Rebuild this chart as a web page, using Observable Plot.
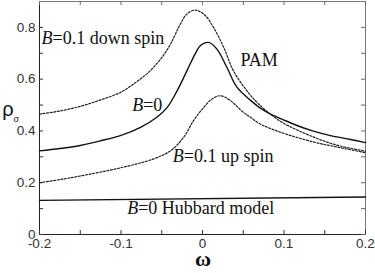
<!DOCTYPE html>
<html>
<head>
<meta charset="utf-8">
<script src="https://cdn.jsdelivr.net/npm/d3@7"></script>
<script src="https://cdn.jsdelivr.net/npm/@observablehq/plot@0.6"></script>
<style>
  html, body { margin: 0; padding: 0; background: #fff; }
  #chart svg { display: block; }
</style>
</head>
<body>
<div id="chart"></div>
<script>
// ---- data ----
const downOmega = [-0.2, -0.175, -0.15, -0.125, -0.1, -0.08, -0.065, -0.05, -0.039, -0.027, -0.019, -0.009, 0.003, 0.0135, 0.026, 0.038, 0.0545, 0.069, 0.0957, 0.1366, 0.165, 0.2];
const downRho   = [0.465, 0.477, 0.495, 0.52, 0.55, 0.592, 0.63, 0.683, 0.737, 0.814, 0.852, 0.867, 0.847, 0.80, 0.723, 0.632, 0.555, 0.504, 0.437, 0.376, 0.345, 0.322];

const pamOmega = [-0.2, -0.175, -0.15, -0.125, -0.1, -0.076, -0.056, -0.043, -0.031, -0.019, -0.009, -0.0025, 0.0074, 0.0177, 0.030, 0.042, 0.059, 0.071, 0.083, 0.1, 0.116, 0.135, 0.157, 0.18, 0.2];
const pamRho   = [0.323, 0.332, 0.344, 0.362, 0.383, 0.414, 0.453, 0.492, 0.556, 0.633, 0.698, 0.73, 0.742, 0.716, 0.645, 0.57, 0.518, 0.488, 0.466, 0.442, 0.421, 0.40, 0.382, 0.368, 0.355];

const upOmega = [-0.2, -0.175, -0.15, -0.1, -0.06, -0.039, -0.023, -0.011, 0.0012, 0.0115, 0.0217, 0.034, 0.0504, 0.0589, 0.069, 0.0957, 0.1366, 0.165, 0.2];
const upRho   = [0.200, 0.212, 0.226, 0.258, 0.292, 0.324, 0.376, 0.44, 0.49, 0.523, 0.536, 0.518, 0.471, 0.453, 0.43, 0.395, 0.357, 0.338, 0.316];

const hubOmega = [-0.2, 0.2];
const hubRho   = [0.132, 0.145];

const xTicks = [-0.2, -0.1, 0, 0.1, 0.2];
const xTickLabels = ["-0.2", "-0.1", "0", "0.1", "0.2"];
const xMinor = [-0.2, -0.15, -0.1, -0.05, 0, 0.05, 0.1, 0.15, 0.2];
const yTicks = [0, 0.2, 0.4, 0.6, 0.8];
const yTickLabels = ["0", "0.2", "0.4", "0.6", "0.8"];
const yMinor = [0, 0.1, 0.2, 0.3, 0.4, 0.5, 0.6, 0.7, 0.8];

const labelTexts = ["B=0.1 down spin", "PAM", "B=0", "B=0.1 up spin", "B=0 Hubbard model"];
const labelOmega = [-0.1975, 0.0466, -0.0863, -0.0364, -0.0924];
const labelRho   = [0.759, 0.675, 0.501, 0.302, 0.102];

// ---- build tables ----
const zip = (xs, ys) => xs.map((x, i) => ({x, y: ys[i]}));
const down = zip(downOmega, downRho);
const pam = zip(pamOmega, pamRho);
const up = zip(upOmega, upRho);
const hub = zip(hubOmega, hubRho);
const labels = labelTexts.map((t, i) => ({t, x: labelOmega[i], y: labelRho[i]}));

const serif = "'Liberation Serif', 'Times New Roman', serif";
const sans = "'Liberation Sans', Arial, sans-serif";

const chart = Plot.plot({
  width: 375,
  height: 273,
  marginLeft: 39,
  marginRight: 10,
  marginTop: 1,
  marginBottom: 39,
  style: {fontFamily: sans, fontSize: "13.5px", color: "#333", background: "#fff"},
  x: {domain: [-0.2, 0.2]},
  y: {domain: [0, 0.9]},
  marks: [
    Plot.frame({stroke: "#777", strokeWidth: 1}),
    Plot.ruleX([-0.2], {stroke: "#222"}),
    Plot.ruleY([0], {stroke: "#222"}),
    // inward ticks
    Plot.ruleX(xMinor, {x: d => d, insetTop: 229, stroke: "#333"}),
    Plot.ruleX(xMinor, {x: d => d, insetBottom: 229, stroke: "#666"}),
    Plot.ruleY(yMinor, {y: d => d, insetRight: 322, stroke: "#333"}),
    Plot.ruleY(yMinor, {y: d => d, insetLeft: 322, stroke: "#666"}),
    Plot.axisX({ticks: xTicks, tickSize: 0, tickPadding: 4, tickFormat: (d, i) => xTickLabels[i], label: null, fill: "#333"}),
    Plot.axisY({ticks: yTicks, tickSize: 0, tickPadding: 4, tickFormat: (d, i) => yTickLabels[i], label: null, fill: "#333"}),
    // curves
    Plot.line(hub, {x: "x", y: "y", stroke: "#111", strokeWidth: 1.4}),
    Plot.line(pam, {x: "x", y: "y", stroke: "#111", strokeWidth: 1.4, curve: "catmull-rom"}),
    Plot.line(down, {x: "x", y: "y", stroke: "#222", strokeWidth: 1.2, strokeDasharray: "2,1.6", curve: "catmull-rom"}),
    Plot.line(up, {x: "x", y: "y", stroke: "#222", strokeWidth: 1.2, strokeDasharray: "2,1.6", curve: "catmull-rom"}),
    // curve labels
    Plot.text(labels, {x: "x", y: "y", text: "t", textAnchor: "start", fontFamily: serif, fontSize: 18, fill: "#111"}),
    // axis titles
    Plot.text(["ω"], {frameAnchor: "bottom", textAnchor: "middle", lineAnchor: "middle", dx: 0.5, dy: 24, fontFamily: serif, fontWeight: "bold", fontSize: 22, fill: "#111"}),
    Plot.text(["ρ"], {frameAnchor: "left", textAnchor: "middle", lineAnchor: "middle", dx: -31.5, dy: -8, fontFamily: sans, fontSize: 20, fill: "#111"}),
    Plot.text(["σ"], {frameAnchor: "left", textAnchor: "middle", lineAnchor: "middle", dx: -23.2, dy: 1.3, fontFamily: sans, fontSize: 9, fill: "#111"})
  ]
});

// italicize the leading "B" of the curve labels
chart.querySelectorAll("text").forEach(t => {
  const s = t.textContent;
  if (s.startsWith("B=") && !t.querySelector("tspan")) {
    t.textContent = "";
    const ns = "http://www.w3.org/2000/svg";
    const b = document.createElementNS(ns, "tspan");
    b.setAttribute("font-style", "italic");
    b.textContent = "B";
    const r = document.createElementNS(ns, "tspan");
    r.textContent = s.slice(1);
    t.appendChild(b);
    t.appendChild(r);
  }
});

document.getElementById("chart").appendChild(chart);
</script>
</body>
</html>
